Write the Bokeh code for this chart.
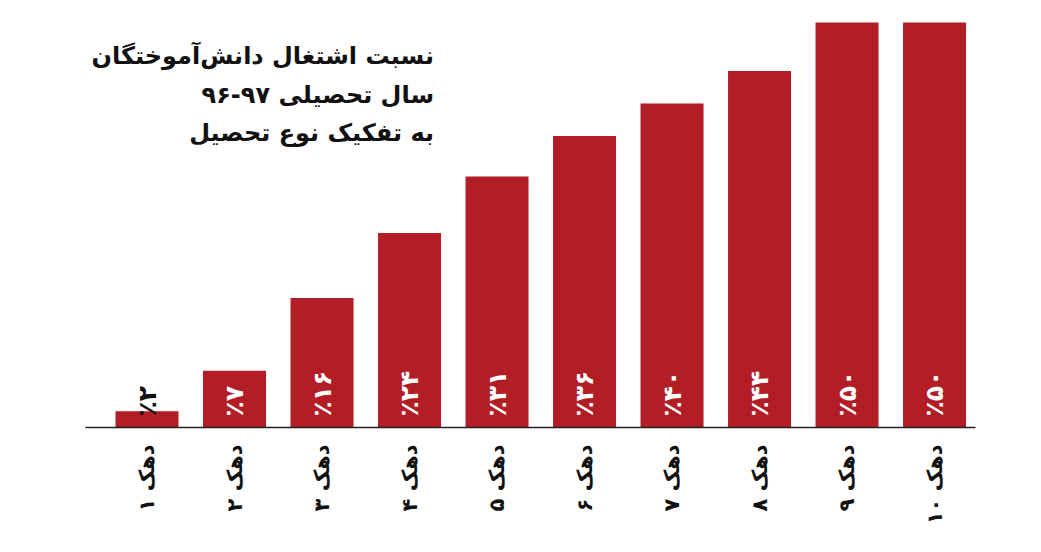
import math
from bokeh.plotting import figure
from bokeh.models import ColumnDataSource, FixedTicker, Label
from bokeh.core.properties import value
from bokeh.embed import file_html
from bokeh.resources import INLINE

# ---- data ----
deciles = ["دهک ۱", "دهک ۲", "دهک ۳", "دهک ۴", "دهک ۵",
           "دهک ۶", "دهک ۷", "دهک ۸", "دهک ۹", "دهک ۱۰"]
shares = [2, 7, 16, 24, 31, 36, 40, 44, 50, 50]
share_labels = ["٪۲", "٪۷", "٪۱۶", "٪۲۴", "٪۳۱", "٪۳۶", "٪۴۰", "٪۴۴", "٪۵۰", "٪۵۰"]
title_lines = ["نسبت اشتغال دانش\u200cآموختگان",
               "سال تحصیلی ۹۷-۹۶",
               "به تفکیک نوع تحصیل"]

FONT = "DejaVu Sans"
BAR = "#b31d25"

xs = list(range(1, len(shares) + 1))
label_colors = ["#111111" if v < 5 else "#ffffff" for v in shares]
src = ColumnDataSource(dict(x=xs, top=shares, lab=share_labels, tc=label_colors,
                            y0=[0] * len(shares)))

p = figure(width=1025, height=536, x_range=(0.297, 10.468), y_range=(0, 51.48),
           output_backend="svg", toolbar_location=None, y_axis_location=None,
           min_border_left=85, min_border_right=50, min_border_top=10,
           min_border_bottom=109)
p.outline_line_color = None
p.xgrid.visible = False
p.ygrid.visible = False
p.background_fill_color = "white"
p.border_fill_color = "white"

p.vbar(x="x", top="top", width=0.72, source=src, fill_color=BAR, line_color=None)

p.text(x="x", y="y0", text="lab", source=src, angle=math.pi / 2,
       text_align="left", text_baseline="middle", text_color="tc",
       text_font=value(FONT), text_font_size="25px", text_font_style="bold",
       y_offset=-11)

ax = p.xaxis[0]
ax.ticker = FixedTicker(ticks=xs)
ax.major_label_overrides = {x: d for x, d in zip(xs, deciles)}
ax.major_label_orientation = math.pi / 2
ax.major_label_text_font = FONT
ax.major_label_text_font_size = "21px"
ax.major_label_text_font_style = "bold"
ax.major_label_text_color = "#111111"
ax.major_label_standoff = 11
ax.major_tick_line_color = None
ax.minor_tick_line_color = None
ax.axis_line_color = "#222222"
ax.axis_line_width = 1.5

for ty, line in zip([45.9, 41.1, 36.3], title_lines):
    p.add_layout(Label(x=4.28, y=ty, text=line, text_align="right",
                       text_baseline="alphabetic", text_font=FONT,
                       text_font_size="24px", text_font_style="bold",
                       text_color="#111111"))

open("out.html", "w").write(file_html(p, INLINE))
